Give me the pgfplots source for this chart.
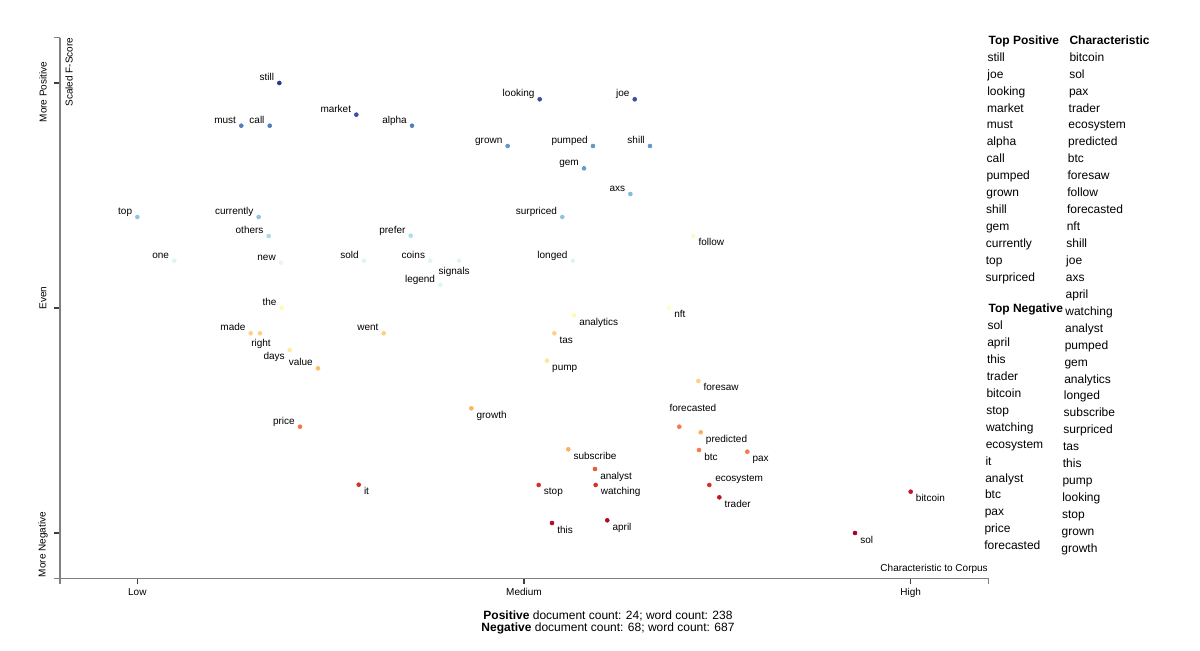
\documentclass[border=0pt]{standalone}
\usepackage{pgfplots}
\pgfplotsset{compat=1.18}
\usepackage{pgfplotstable}
\usepackage{fontspec}
\setmainfont{Liberation Sans}

\pgfplotsset{
  colormap={rdylbu}{rgb255=(165,0,38) rgb255=(215,48,39) rgb255=(244,109,67)
    rgb255=(253,174,97) rgb255=(254,224,144) rgb255=(255,255,191)
    rgb255=(224,243,248) rgb255=(171,217,233) rgb255=(116,173,209)
    rgb255=(69,117,180) rgb255=(49,54,149)},
  termdots/.style={
    scatter, only marks, mark=*, mark size=1.5pt,
    point meta=explicit,
    scatter/use mapped color={draw=mapped color, fill=mapped color},
  },
  termlabels/.style={
    draw=none, mark=none,
    point meta=explicit symbolic,
    visualization depends on={\thisrow{dx} \as \ldx},
    visualization depends on={\thisrow{dy} \as \ldy},
    nodes near coords,
    nodes near coords style={anchor=#1, xshift={\ldx*0.75pt}, yshift={\ldy*0.75pt},
      text=black, inner sep=0pt, font=\fontsize{7.5}{9}\selectfont},
  },
}

% labels set to the left of the dot (anchor base east); dx, dy in px
\pgfplotstableread{
label      x       y       c     dx    dy
still      0.1836  1.0000  1.00  -5    2.5
must       0.1344  0.9051  0.88  -5    2.5
call       0.1712  0.9051  0.88  -5    2.5
top        0.0000  0.7022  0.75  -5    2.5
currently  0.1569  0.7022  0.75  -5    2.5
others     0.1699  0.6600  0.70  -5    2.5
one        0.0478  0.6051  0.60  -5    2.5
new        0.1858  0.6007  0.57  -5    2.5
market     0.2832  0.9296  0.96  -5    2.5
alpha      0.3552  0.9051  0.88  -5    2.5
looking    0.5203  0.9638  0.96  -5    2.5
joe        0.6432  0.9638  0.96  -5    2.5
grown      0.4789  0.8600  0.84  -5    2.5
pumped     0.5892  0.8600  0.84  -5    2.5
shill      0.6629  0.8600  0.84  -5    2.5
gem        0.5776  0.8104  0.83  -5    2.5
axs        0.6375  0.7533  0.77  -5    2.5
surpriced  0.5495  0.7022  0.75  -5    2.5
prefer     0.3535  0.6607  0.69  -5    2.5
sold       0.2931  0.6051  0.60  -5    2.5
coins      0.3788  0.6051  0.60  -5    2.5
legend     0.3918  0.5511  0.60  -5    2.5
longed     0.5630  0.6051  0.60  -5    2.5
the        0.1867  0.5007  0.49  -5    2.5
made       0.1466  0.4438  0.37  -5    2.5
value      0.2336  0.3660  0.33  -5    2.5
went       0.3186  0.4438  0.37  -5    2.5
price      0.2103  0.2362  0.21  -5    2.5
days       0.1970  0.4067  0.44  -4.7  -10
}\leftlab

% labels set to the right of the dot (anchor base west)
\pgfplotstableread{
label      x       y       c     dx    dy
signals    0.4160  0.6051  0.60  -20.7 -13.3
right      0.1586  0.4438  0.37  -9    -13.4
it         0.2863  0.1073  0.10  5     -10
growth     0.4319  0.2771  0.31  5     -10
analytics  0.5647  0.4838  0.48  5     -10
tas        0.5392  0.4438  0.37  5     -10
pump       0.5297  0.3829  0.42  5     -10
nft        0.6875  0.5007  0.50  5     -10
follow     0.7189  0.6600  0.53  5     -10
foresaw    0.7254  0.3378  0.37  5     -10
forecasted 0.7008  0.2362  0.22  -10   15
predicted  0.7285  0.2238  0.30  5     -10
btc        0.7263  0.1844  0.22  5     -10
pax        0.7888  0.1807  0.22  5     -10
subscribe  0.5573  0.1860  0.30  5     -10
analyst    0.5918  0.1422  0.16  5     -10
stop       0.5190  0.1067  0.10  5     -10
watching   0.5927  0.1067  0.10  5     -10
ecosystem  0.7396  0.1067  0.10  5.7   3.3
trader     0.7526  0.0793  0.05  5     -10
this       0.5362  0.0222  0.02  5     -10
april      0.6077  0.0282  0.02  5     -10
bitcoin    1.0000  0.0918  0.05  5     -10
sol        0.9280  0.0000  0.00  5     -10
}\rightlab

\begin{document}
\begin{tikzpicture}
\begin{axis}[
  scale only axis, width=696pt, height=405pt,
  xmin=-0.1, xmax=1.1, ymin=-0.1, ymax=1.1,
  axis x line*=bottom, axis y line*=left,
  axis line style={-, draw=black!50, line width=0.75pt},
  xtick={0,0.5,1}, xticklabels={Low,Medium,High},
  ytick={0,0.5,1}, yticklabels={},
  extra x ticks={-0.1,1.1}, extra x tick labels={},
  extra y ticks={-0.1,1.1}, extra y tick labels={},
  extra tick style={tick style={draw=black!50, line width=0.75pt}},
  tick align=outside, major tick length=4.5pt,
  tick style={draw=black!75, line width=0.9pt},
  ticklabel style={font=\fontsize{7.5}{9}\selectfont, text=black},
  clip=false,
  colormap name=rdylbu, point meta min=0, point meta max=1,
]
\addplot[termdots] table[x=x, y=y, meta=c] {\leftlab};
\addplot[termdots] table[x=x, y=y, meta=c] {\rightlab};
\addplot[termlabels=base east] table[x=x, y=y, meta=label] {\leftlab};
\addplot[termlabels=base west] table[x=x, y=y, meta=label] {\rightlab};
\end{axis}

% texts around the axis, in pixel units from the picture's top left corner
\begin{scope}[shift={([xshift=-45pt, yshift=433.5pt]current axis.south west)}, x=0.75pt, y=-0.75pt]
\path (0,0) rectangle (1200,650);
\begin{scope}[font=\fontsize{7.5}{9}\selectfont]
\node[rotate=90] at (43,92) {More Positive};
\node[rotate=90] at (43,298) {Even};
\node[rotate=90] at (43,544.5) {More Negative};
\node[rotate=90] at (69,72) {Scaled F-Score};
\node[anchor=base east, inner sep=0pt] at (988,572) {Characteristic to Corpus};
\end{scope}
\begin{scope}[font=\fontsize{9}{11}\selectfont, inner sep=0pt]
\node[anchor=base west, font=\fontsize{9}{11}\selectfont\bfseries] at (988.3,44.5) {Top Positive};
\node[anchor=base west, font=\fontsize{9}{11}\selectfont\bfseries] at (1069.3,44.5) {Characteristic};
\node[anchor=base west, font=\fontsize{9}{11}\selectfont\bfseries] at (988.3,313) {Top Negative};
\foreach \w [count=\i from 0] in {still,joe,looking,market,must,alpha,call,pumped,grown,shill,gem,currently,top,surpriced}
  \node[anchor=base west] at ({987.3-0.15*\i},{61.2+16.94*\i}) {\w};
\foreach \w [count=\i from 0] in {sol,april,this,trader,bitcoin,stop,watching,ecosystem,it,analyst,btc,pax,price,forecasted}
  \node[anchor=base west] at ({987.3-0.25*\i},{329.6+16.94*\i}) {\w};
\foreach \w [count=\i from 0] in {bitcoin,sol,pax,trader,ecosystem,predicted,btc,foresaw,follow,forecasted,nft,shill,joe,axs,april,watching,analyst,pumped,gem,analytics,longed,subscribe,surpriced,tas,this,pump,looking,stop,grown,growth}
  \node[anchor=base west] at ({1069.3-0.28*\i},{61.2+16.94*\i}) {\w};
\node[anchor=base] at (608,619) {\textbf{Positive} document count: 24; word count: 238};
\node[anchor=base] at (608,632) {\textbf{Negative} document count: 68; word count: 687};
\end{scope}
\end{scope}
\end{tikzpicture}
\end{document}
